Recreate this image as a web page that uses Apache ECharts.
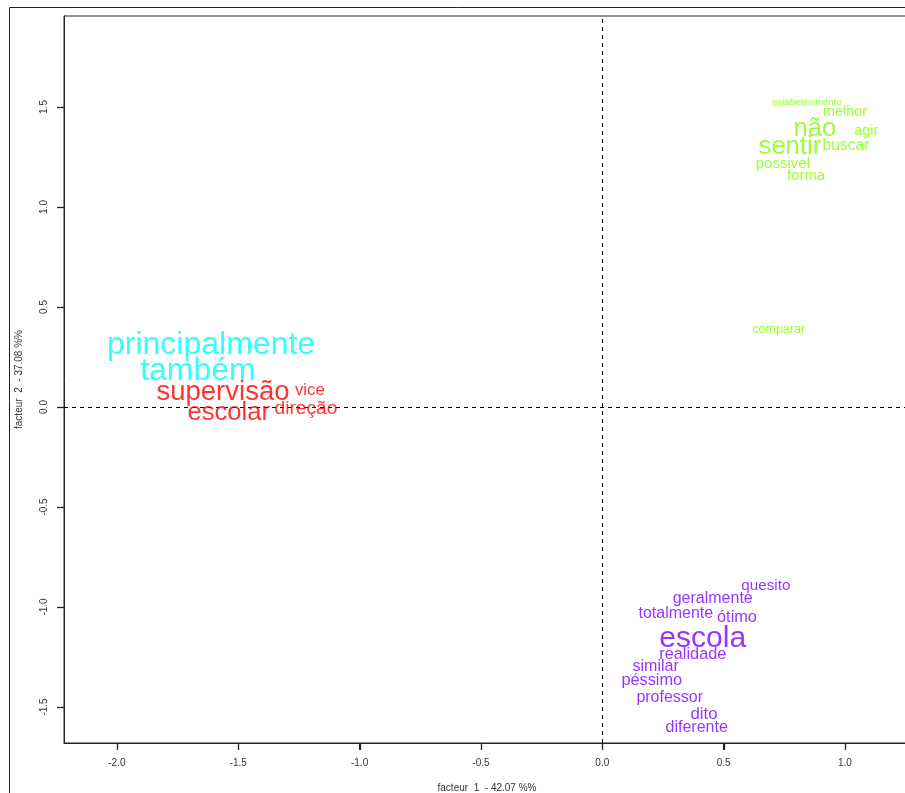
<!DOCTYPE html>
<html>
<head>
<meta charset="utf-8">
<script src="https://cdn.jsdelivr.net/npm/echarts@6/dist/echarts.min.js"></script>
<style>html,body{margin:0;padding:0;background:#fff}#c{width:905px;height:793px}</style>
</head>
<body>
<div id="c"></div>
<script>
// ---- data ----
const xTicks = [-2.0, -1.5, -1.0, -0.5, 0.0, 0.5, 1.0];
const yTicks = [-1.5, -1.0, -0.5, 0.0, 0.5, 1.0, 1.5];
const xTitle = 'facteur  1  - 42.07 %%';
const yTitle = 'facteur  2  - 37.08 %%';
const X_MIN = -2.218, X_MAX = 1.268;
const Y_MIN = -1.68, Y_MAX = 1.955;

const cyanWords = ['principalmente', 'também'];
const cyanX = [-1.612, -1.666];
const cyanY = [0.31, 0.18];
const cyanWeight = [2.0, 2.0];

const redWords = ['supervisão', 'vice', 'escolar', 'direção'];
const redX = [-1.563, -1.205, -1.539, -1.221];
const redY = [0.075, 0.085, -0.032, -0.01];
const redWeight = [1.72, 1.05, 1.6, 1.2];

const greenWords = ['estabelecimento', 'melhor', 'não', 'agir', 'sentir', 'buscar', 'possivel', 'forma', 'comparar'];
const greenX = [0.843, 1.0, 0.876, 1.088, 0.773, 1.004, 0.744, 0.840, 0.727];
const greenY = [1.525, 1.475, 1.39, 1.38, 1.30, 1.305, 1.215, 1.155, 0.385];
const greenWeight = [0.6, 0.9, 1.6, 0.9, 1.6, 0.98, 0.94, 0.93, 0.78];

const purpleWords = ['quesito', 'geralmente', 'totalmente', 'ótimo', 'escola', 'realidade', 'similar', 'péssimo', 'professor', 'dito', 'diferente'];
const purpleX = [0.674, 0.455, 0.303, 0.555, 0.414, 0.373, 0.220, 0.204, 0.278, 0.419, 0.389];
const purpleY = [-0.895, -0.96, -1.035, -1.05, -1.16, -1.235, -1.30, -1.365, -1.455, -1.535, -1.605];
const purpleWeight = [0.95, 1.0, 1.0, 1.02, 1.88, 1.02, 1.0, 1.02, 1.0, 1.05, 1.0];

// ---- build ----
const BASE = 16;
const TICK_LEN = 7;
function build(words, xs, ys, ws, color) {
  return {
    type: 'scatter',
    symbolSize: 0,
    silent: true,
    z: 3,
    data: words.map((w, i) => ({
      value: [xs[i], ys[i]],
      name: w,
      label: { fontSize: ws[i] * BASE }
    })),
    label: {
      show: true,
      position: 'inside',
      formatter: p => p.name,
      color: color,
      fontFamily: 'Liberation Sans, Arial, sans-serif',
      align: 'center',
      verticalAlign: 'middle'
    }
  };
}
function tickSeries(values, horizontal) {
  return {
    type: 'custom',
    silent: true,
    clip: false,
    z: 10,
    data: values.map(v => horizontal ? [v, Y_MIN] : [X_MIN, v]),
    renderItem: function (params, api) {
      const p = api.coord([api.value(0), api.value(1)]);
      const shape = horizontal
        ? { x1: Math.round(p[0]) + 0.5, y1: p[1], x2: Math.round(p[0]) + 0.5, y2: p[1] + TICK_LEN }
        : { x1: p[0], y1: Math.round(p[1]) + 0.5, x2: p[0] - TICK_LEN, y2: Math.round(p[1]) + 0.5 };
      return { type: 'line', shape: shape, style: { stroke: '#222', lineWidth: 1.3 } };
    }
  };
}

const chart = echarts.init(document.getElementById('c'), null, { renderer: 'canvas' });
const axisFont = { fontFamily: 'Liberation Sans, Arial, sans-serif', fontSize: 10, color: '#333' };

const series = [
  build(cyanWords, cyanX, cyanY, cyanWeight, '#00FFFF'),
  build(redWords, redX, redY, redWeight, '#FF0000'),
  build(greenWords, greenX, greenY, greenWeight, '#80FF00'),
  build(purpleWords, purpleX, purpleY, purpleWeight, '#8000FF'),
  tickSeries(xTicks, true),
  tickSeries(yTicks, false)
];
series[0].markLine = {
  silent: true,
  symbol: 'none',
  label: { show: false },
  lineStyle: { color: '#000', type: [4, 4], width: 1 },
  data: [{ xAxis: 0 }, { yAxis: 0 }],
  z: 2
};

chart.setOption({
  animation: false,
  backgroundColor: '#fff',
  grid: {
    left: 64, top: 16, width: 846, height: 727,
    outerBoundsMode: 'none',
    show: true, borderColor: '#222', borderWidth: 1
  },
  graphic: [{
    type: 'rect',
    z: 0,
    shape: { x: 9.5, y: 7.5, width: 1000, height: 1000 },
    style: { fill: 'rgba(0,0,0,0)', stroke: '#222', lineWidth: 1 },
    silent: true
  }],
  xAxis: {
    type: 'value', min: X_MIN, max: X_MAX, position: 'bottom',
    splitLine: { show: false },
    axisLine: { show: true, onZero: false, lineStyle: { color: '#222', width: 1 } },
    axisTick: { show: true, length: TICK_LEN, customValues: xTicks, lineStyle: { color: '#222', width: 1 } },
    axisLabel: Object.assign({ customValues: xTicks, margin: 15, formatter: v => v.toFixed(1) }, axisFont),
    name: xTitle, nameLocation: 'middle', nameGap: 40,
    nameTextStyle: axisFont
  },
  yAxis: {
    type: 'value', min: Y_MIN, max: Y_MAX, position: 'left',
    splitLine: { show: false },
    axisLine: { show: true, onZero: false, lineStyle: { color: '#222', width: 1 } },
    axisTick: { show: true, length: TICK_LEN, customValues: yTicks, lineStyle: { color: '#222', width: 1 } },
    axisLabel: Object.assign({ customValues: yTicks, margin: 15, rotate: 90, formatter: v => v.toFixed(1) }, axisFont),
    name: yTitle, nameLocation: 'middle', nameGap: 40, nameRotate: 90,
    nameTextStyle: axisFont
  },
  series: series
});
</script>
</body>
</html>
